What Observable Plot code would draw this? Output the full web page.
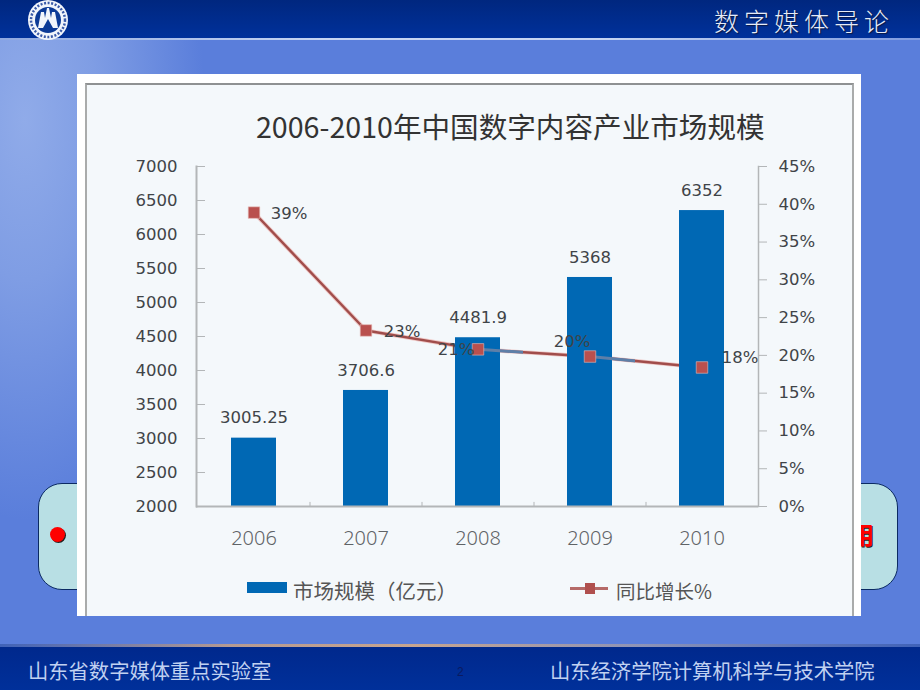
<!DOCTYPE html>
<html lang="zh">
<head>
<meta charset="utf-8">
<script src="https://cdn.jsdelivr.net/npm/d3@7"></script>
<script src="https://cdn.jsdelivr.net/npm/@observablehq/plot@0.6"></script>
<style>
html,body{margin:0;padding:0;width:920px;height:690px;overflow:hidden;background:#5a7edb;}
#slide{position:relative;width:920px;height:690px;overflow:hidden;font-family:"Noto Sans CJK SC",sans-serif;
 background:radial-gradient(ellipse 180px 400px at 25px 120px,#90abe9 0%,#7f9de4 40%,rgba(90,126,219,0) 100%),#5a7edb;}
#slide>*{position:absolute;}
#head{left:0;top:0;width:920px;height:38px;background:linear-gradient(#00277f,#00319b);}
#headline{left:0;top:38px;width:920px;height:2px;background:linear-gradient(90deg,#8fa8e0,#c6d5f2 35%,#c6d5f2 65%,#7f9be0);}
#logo{left:27px;top:0;width:42px;height:42px;}
#course{left:714px;top:1px;font-size:25px;line-height:38px;letter-spacing:5px;color:#e6ecf8;font-weight:300;text-shadow:1px 1px 1px #0a1840;white-space:nowrap;}
#foot{left:0;top:645px;width:920px;height:45px;background:linear-gradient(#00288c,#00309a);}
#footline{left:0;top:644px;width:920px;height:3px;background:linear-gradient(90deg,#3f62b8,#b59a92 25%,#c7a58f 45%,#8c93b8 70%,#3f62b8);}
.foottext{top:657px;font-size:20.3px;line-height:26px;color:#c0d1f1;white-space:nowrap;}
#page{left:457px;top:665px;font-size:12px;line-height:14px;color:#0a1a60;font-family:"Liberation Sans";}
#box{left:38px;top:483px;width:858px;height:105px;border:1.5px solid #0b2a63;border-radius:24px;background:#b8dfe4;}
#dot{left:50px;top:527px;width:15px;height:15px;border-radius:50%;background:#fe0000;box-shadow:1px 1px 0 #222;}
#yong{left:850px;top:517px;font-size:24px;line-height:34px;font-weight:700;color:#f00;text-shadow:1px 1px 0 #222;}
#card{left:77px;top:74px;width:784px;height:542px;background:#fff;}
#frame{left:85px;top:83px;width:765px;height:533px;box-sizing:content-box;background:#f4f8fb;border-left:2px solid #a9abab;border-right:2px solid #a9abab;border-top:2px solid #8f9192;height:531px;}
#title{left:256px;top:105px;font-size:28.6px;line-height:42px;color:#333;white-space:nowrap;}
.legtext{top:577px;line-height:27px;color:#555;white-space:nowrap;}
#legbar{left:247px;top:582px;width:40px;height:11px;background:#0068b4;}
#legline{left:570px;top:587px;width:38px;height:3px;background:#b56a68;}
#legmark{left:585px;top:583px;width:10px;height:11px;background:#b0504e;}
</style>
</head>
<body>
<div id="slide">
  <div id="head"></div>
  <div id="headline"></div>
  <svg id="logo" viewBox="0 0 42 42">
    <circle cx="21" cy="20" r="20" fill="#f2f5fb"/>
    <circle cx="21" cy="20" r="17" fill="none" stroke="#3a5aa8" stroke-width="2.5" stroke-dasharray="2 1.6"/>
    <circle cx="21" cy="20" r="13" fill="#0c3a96"/>
    <path d="M11 28 L14 12 L17 12 L18 18 L20 8 L22 8 L24 18 L25 12 L28 12 L31 28 L26 28 L21 19 L16 28 Z" fill="#f2f5fb"/>
  </svg>
  <div id="course">数字媒体导论</div>
  <div id="foot"></div>
  <div id="footline"></div>
  <div class="foottext" style="left:28px">山东省数字媒体重点实验室</div>
  <div class="foottext" style="left:550px">山东经济学院计算机科学与技术学院</div>
  <div id="page">2</div>
  <div id="box"></div>
  <div id="dot"></div>
  <div id="yong">用</div>
  <div id="card"></div>
  <div id="frame"></div>
  <div id="title">2006-2010年中国数字内容产业市场规模</div>
  <div id="chart"></div>
  <div id="legbar"></div>
  <div class="legtext" style="left:293px;font-size:20.5px">市场规模（亿元）</div>
  <div id="legline"></div>
  <div id="legmark"></div>
  <div class="legtext" style="left:616px;font-size:19.5px">同比增长%</div>
</div>
<script>
const years = ["2006", "2007", "2008", "2009", "2010"];
const marketSize = [3005.25, 3706.6, 4481.9, 5368, 6352];
const marketLabels = ["3005.25", "3706.6", "4481.9", "5368", "6352"];
const growth = [38.9, 23.3, 20.8, 19.85, 18.4];
const growthLabels = ["39%", "23%", "21%", "20%", "18%"];
const leftTicks = [2000, 2500, 3000, 3500, 4000, 4500, 5000, 5500, 6000, 6500, 7000];
const rightTicks = [0, 5, 10, 15, 20, 25, 30, 35, 40, 45];

const toLeft = d3.scaleLinear().domain([0, 45]).range([2000, 7000]);
const rows = years.map((year, i) => ({
  year, size: marketSize[i], sizeLabel: marketLabels[i],
  growth: toLeft(growth[i]), growthLabel: growthLabels[i]
}));

const axisGray = "#b3b6b8";
const numFont = "DejaVu Sans";
const growthLabel = (i, dx, dy) => Plot.text([rows[i]], {
  x: "year", y: "growth", text: "growthLabel", dx, dy,
  fontSize: 16.5, fontFamily: numFont, fill: "#3f4448"
});

const chart = Plot.plot({
  width: 920, height: 690,
  marginLeft: 196, marginRight: 162, marginTop: 166, marginBottom: 184,
  style: {background: "transparent", position: "absolute", left: "0", top: "0"},
  x: {domain: years, paddingInner: 0.6, paddingOuter: 0.3, label: null},
  y: {domain: [2000, 7000], label: null},
  marks: [
    Plot.frame({anchor: "left", stroke: axisGray, strokeWidth: 2}),
    Plot.frame({anchor: "right", stroke: axisGray, strokeWidth: 1.5}),
    Plot.line(rows, {x: "year", y: "growth", stroke: "#eec8c6", strokeWidth: 4.2}),
    Plot.line(rows, {x: "year", y: "growth", stroke: "#a14d4b", strokeWidth: 2.4}),
    Plot.barY(rows, {x: "year", y1: 2000, y2: "size", fill: "#0068b4"}),
    Plot.line(rows, {x: "year", y: "growth", stroke: "#5e7fa8", strokeWidth: 3}),
    Plot.ruleY([2000], {stroke: axisGray, strokeWidth: 2}),
    Plot.ruleX(years.slice(0, 4), {x: d => d, y1: 2000, y2: 2060, dx: 56, stroke: axisGray}),
    Plot.dot(rows, {x: "year", y: "growth", symbol: "square", r: 6.5, fill: "#b9504e", stroke: "#e8bcb9", strokeWidth: 0.6}),
    Plot.axisY(leftTicks, {anchor: "left", tickSize: -9, tickPadding: 28, stroke: axisGray, fill: "#3f4448", fontSize: 16.5, fontFamily: numFont, tickFormat: d => String(d), label: null}),
    Plot.axisY(rightTicks.map(d => toLeft(d)), {anchor: "right", tickSize: 8, tickPadding: 12, stroke: axisGray, fill: "#3f4448", fontSize: 16.5, fontFamily: numFont, tickFormat: d => `${Math.round(toLeft.invert(d))}%`, label: null}),
    Plot.axisX({tickSize: 0, tickPadding: 24, fill: "#5f6366", fontSize: 20, fontWeight: 300, fontFamily: "Noto Sans", label: null}),
    Plot.text(rows, {x: "year", y: "size", text: "sizeLabel", dy: -20, fontSize: 16.5, fontFamily: numFont, fill: "#3f4448"}),
    growthLabel(0, 35, 1),
    growthLabel(1, 36, 1),
    growthLabel(2, -22, 0),
    growthLabel(3, -18, -15),
    growthLabel(4, 38, -10)
  ]
});

// The line reads muted blue-grey where it crosses a bar: show that top copy only inside the bars.
const clip = document.createElementNS("http://www.w3.org/2000/svg", "clipPath");
clip.setAttribute("id", "bars-only");
chart.querySelectorAll('g[aria-label="bar"] rect').forEach(r => clip.appendChild(r.cloneNode()));
chart.appendChild(clip);
chart.querySelectorAll('g[aria-label="line"]')[2].setAttribute("clip-path", "url(#bars-only)");

document.getElementById("chart").replaceWith(chart);
</script>
</body>
</html>
